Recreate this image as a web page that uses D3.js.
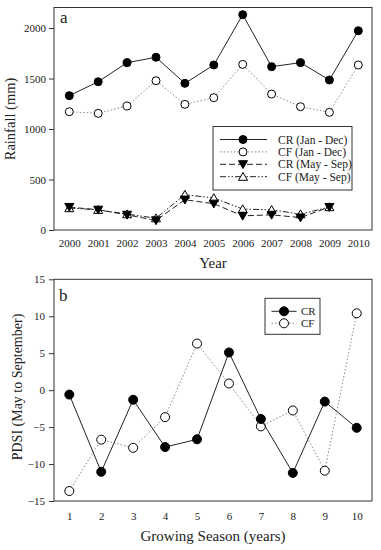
<!DOCTYPE html>
<html><head><meta charset="utf-8">
<script src="https://cdn.jsdelivr.net/npm/d3@7"></script>
<style>body{margin:0;background:#fff}svg{display:block}svg text{font-family:"Liberation Serif","Times New Roman",serif !important;fill:#222}</style>
</head><body><svg id="c" width="381" height="550"></svg>
<script>
const years = [2000,2001,2002,2003,2004,2005,2006,2007,2008,2009,2010];
const crJanDec = [1330,1468,1657,1710,1452,1634,2132,1617,1657,1485,1973];
const cfJanDec = [1171,1155,1228,1478,1244,1310,1640,1346,1221,1165,1634];
const crMaySep = [227,200,150,95,300,260,140,150,123,227];
const cfMaySep = [217,200,157,117,350,317,207,200,157,227];
const rainTicks = [0,500,1000,1500,2000];

const seasons = [1,2,3,4,5,6,7,8,9,10];
const pdsiCR = [-0.6,-11.05,-1.3,-7.7,-6.65,5.1,-3.9,-11.2,-1.55,-5.1];
const pdsiCF = [-13.65,-6.7,-7.8,-3.65,6.3,0.9,-4.9,-2.75,-10.9,10.4];
const pdsiTicks = [-15,-10,-5,0,5,10,15];

const FONT = '"Liberation Serif","Times New Roman",serif';
const svg = d3.select("#c");
const L=54, R=372;

function frame(g, top, bottom){
  g.append("rect").attr("x",L).attr("y",top).attr("width",R-L).attr("height",bottom-top)
   .attr("fill","none").attr("stroke","#333").attr("stroke-width",1);
}
function styleAxis(g){
  g.attr("font-family",FONT);
  g.select(".domain").remove();
  g.selectAll("line").attr("stroke","#333");
  g.selectAll("text").attr("font-size",11).style("font-family",FONT).attr("fill","#222");
}

// Panel a
const ax = d3.scalePoint().domain(years).range([69.3,358.3]);
const ay = d3.scaleLinear().domain([0,2200]).range([230,7.8]);
const ga = svg.append("g");
frame(ga, 7.5, 230);
ga.append("g").attr("transform","translate(0,230)").call(d3.axisBottom(ax).tickSize(0).tickPadding(9)).call(styleAxis);
ga.append("g").attr("transform",`translate(${L},0)`).call(d3.axisLeft(ay).tickValues(rainTicks).tickSize(5).tickPadding(3).tickFormat(d3.format("d"))).call(styleAxis);

function series(g, xs, ys, data, xv, dash, color, marker, filled, r){
  const line = d3.line().x((d,i)=>xs(xv[i])).y(d=>ys(d));
  g.append("path").datum(data).attr("d",line).attr("fill","none").attr("stroke",color).attr("stroke-width",1)
   .attr("stroke-dasharray",dash);
  drawMarkers(g, data.map((d,i)=>[xs(xv[i]),ys(d)]), marker, filled, r);
}
function drawMarkers(g, pts, marker, filled, r){
  pts.forEach(([x,y])=>{
    let m;
    if(marker==="circle") m=g.append("circle").attr("cx",x).attr("cy",y).attr("r",r);
    else if(marker==="down") m=g.append("path").attr("d",`M${x-r},${y-r*0.8}L${x+r},${y-r*0.8}L${x},${y+r*0.95}Z`);
    else m=g.append("path").attr("d",`M${x-r},${y+r*0.8}L${x+r},${y+r*0.8}L${x},${y-r*0.95}Z`);
    m.attr("fill",filled?"#000":"#fff").attr("stroke","#000").attr("stroke-width",1);
  });
}
const styles = [
  {data:crJanDec, dash:null, color:"#222", marker:"circle", filled:true, label:"CR (Jan - Dec)"},
  {data:cfJanDec, dash:"1.5,2", color:"#888", marker:"circle", filled:false, label:"CF (Jan - Dec)"},
  {data:crMaySep, dash:"6,3", color:"#222", marker:"down", filled:true, label:"CR (May - Sep)"},
  {data:cfMaySep, dash:"6,2,1.5,2,1.5,2", color:"#222", marker:"up", filled:false, label:"CF (May - Sep)"}
];
[3,2,1,0].forEach(i=>{const s=styles[i];series(ga, ax, ay, s.data, years, s.dash, s.color, s.marker, s.filled, s.marker==="circle"?4:4.5);});

ga.append("text").attr("x",60).attr("y",23).attr("font-size",17).text("a");
ga.append("text").attr("x",213).attr("y",268).attr("text-anchor","middle").attr("font-size",15).text("Year");
ga.append("text").attr("x",15).attr("y",119).attr("transform","rotate(-90,15,119)").attr("text-anchor","middle").attr("font-size",14.5).text("Rainfall (mm)");

// legend a
const lga = ga.append("g");
lga.append("rect").attr("x",213).attr("y",126.5).attr("width",139).attr("height",63.5).attr("fill","#fff").attr("stroke","#333");
styles.forEach((s,i)=>{
  const y=139.5+i*12.4;
  lga.append("line").attr("x1",220).attr("x2",267).attr("y1",y).attr("y2",y).attr("stroke",s.color).attr("stroke-dasharray",s.dash);
  drawMarkers(lga, [[243,y]], s.marker, s.filled, s.marker==="circle"?4:4.5);
  lga.append("text").attr("x",278).attr("y",y+4).attr("font-size",11.5).text(s.label);
});

// Panel b
const bx = d3.scalePoint().domain(seasons).range([69.3,356.7]);
const by = d3.scaleLinear().domain([-15,15]).range([501,279.3]);
const gb = svg.append("g");
frame(gb, 279.3, 501);
gb.append("g").attr("transform","translate(0,501)").call(d3.axisBottom(bx).tickSize(0).tickPadding(11)).call(styleAxis);
gb.append("g").attr("transform",`translate(${L},0)`).call(d3.axisLeft(by).tickValues(pdsiTicks).tickSize(5).tickPadding(4)).call(styleAxis);
const bStyles=[
  {data:pdsiCR, dash:null, color:"#222", filled:true, label:"CR"},
  {data:pdsiCF, dash:"1.5,2", color:"#888", filled:false, label:"CF"}
];
series(gb, bx, by, pdsiCF, seasons, "1.5,2", "#888", "circle", false, 4.5);
series(gb, bx, by, pdsiCR, seasons, null, "#222", "circle", true, 4.5);
gb.append("text").attr("x",59).attr("y",301).attr("font-size",17).text("b");
gb.append("text").attr("x",213).attr("y",541).attr("text-anchor","middle").attr("font-size",15).text("Growing Season (years)");
gb.append("text").attr("x",22).attr("y",387).attr("transform","rotate(-90,22,387)").attr("text-anchor","middle").attr("font-size",14).text("PDSI (May to September)");

const lgb = gb.append("g");
lgb.append("rect").attr("x",265).attr("y",298.3).attr("width",55).attr("height",36).attr("fill","#fff").attr("stroke","#333");
bStyles.forEach((s,i)=>{
  const y=311.3+i*12;
  lgb.append("line").attr("x1",271.5).attr("x2",296.5).attr("y1",y).attr("y2",y).attr("stroke",s.color).attr("stroke-dasharray",s.dash);
  drawMarkers(lgb, [[284,y]], "circle", s.filled, 4.5);
  lgb.append("text").attr("x",301).attr("y",y+4).attr("font-size",11).text(s.label);
});
</script></body></html>
